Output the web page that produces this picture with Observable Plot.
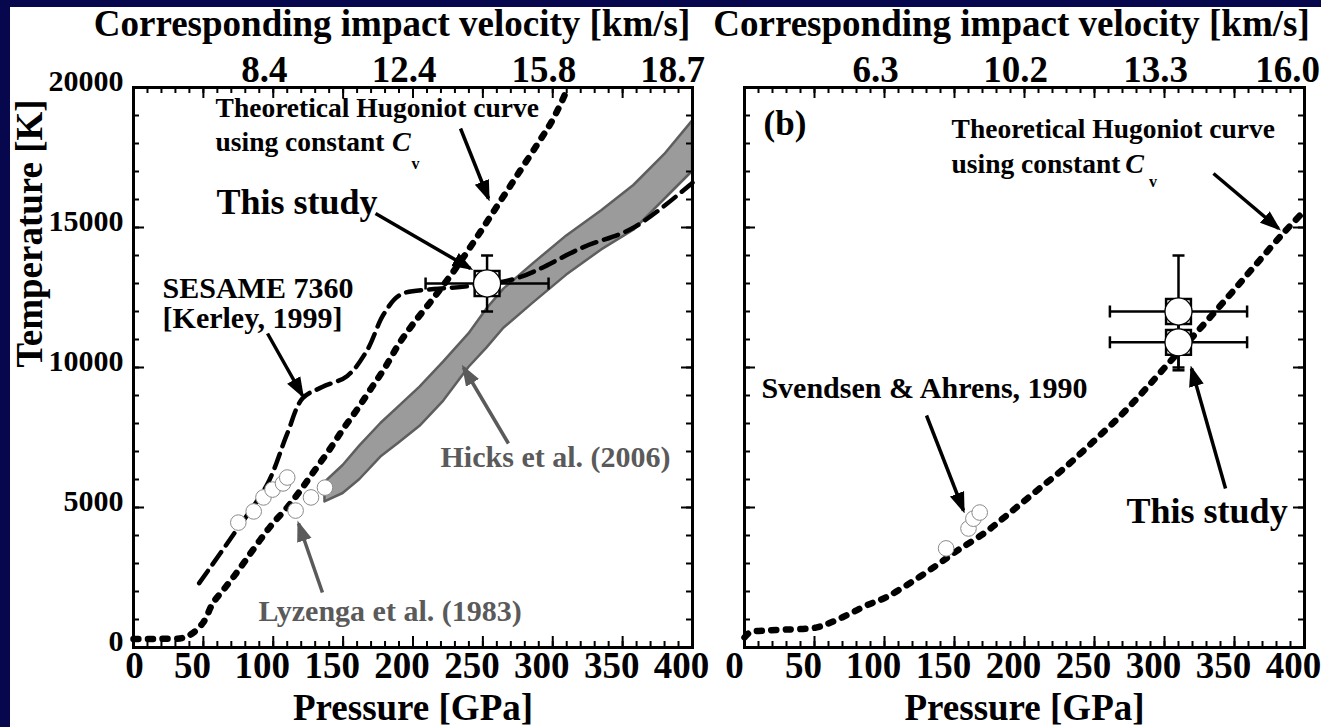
<!DOCTYPE html>
<html><head><meta charset="utf-8">
<script src="https://cdn.jsdelivr.net/npm/d3@7"></script>
<script src="https://cdn.jsdelivr.net/npm/@observablehq/plot@0.6"></script>
<style>
html,body{margin:0;padding:0;background:#fff;}
#wrap{position:relative;width:1321px;height:727px;background:#07074e;overflow:hidden;}
#paper{position:absolute;left:10px;top:7px;width:1311px;height:720px;background:#fff;}
#pa{position:absolute;left:0;top:0;width:700px;height:727px;}
#pb{position:absolute;left:700px;top:0;width:621px;height:727px;}
svg{overflow:visible}
</style></head><body>
<div id="wrap"><div id="paper"></div><div id="pa"></div><div id="pb"></div></div>
<script>
// ---------- axes ----------
const pressureTicks = [0, 50, 100, 150, 200, 250, 300, 350, 400];
const pressureMinor = d3.range(0, 401, 10);
const tempTicks = [0, 5000, 10000, 15000, 20000];
const tempMinor = d3.range(0, 20001, 1000);
const velocityTickPressure = [100, 200, 300, 400];
const velocityLabelsA = ["8.4", "12.4", "15.8", "18.7"];
const velocityLabelsB = ["6.3", "10.2", "13.3", "16.0"];

// ---------- panel (a) ----------
const hugoniotA_P = [0, 20, 35, 42, 50, 57, 65, 72, 80, 90, 100, 110, 120, 130, 140, 150, 160, 170, 180, 190, 200, 215, 230, 245, 260, 275, 290, 300, 311];
const hugoniotA_T = [300, 310, 340, 500, 900, 1600, 2100, 2550, 3100, 3800, 4450, 5000, 5650, 6350, 7050, 7800, 8500, 9250, 10000, 10850, 11550, 12500, 13500, 14600, 15750, 16900, 18050, 18850, 20000];

const sesame_P = [47, 72, 96, 110, 121, 135, 153, 167, 179, 191, 215, 239, 275, 322, 358, 400];
const sesame_T = [2300, 4070, 5860, 7640, 8900, 9300, 9700, 10600, 11900, 12600, 12800, 12900, 13200, 14300, 15000, 16600];

const hicks_P = [137, 150, 162, 177, 190, 205, 222, 240, 253, 265, 286, 310, 335, 358, 380, 400];
const hicks_Thigh = [5900, 6500, 7200, 8000, 8600, 9300, 10200, 11200, 12100, 12800, 13700, 14700, 15600, 16500, 17600, 18800];
const hicks_Tlow = [5200, 5500, 6000, 6800, 7300, 7900, 8800, 10000, 10700, 11400, 12300, 13300, 14200, 14900, 16000, 17000];

const lyzenga_P = [75, 86, 93, 99.5, 107, 110, 116, 127, 137];
const lyzenga_T = [4460, 4860, 5360, 5640, 5860, 6070, 4890, 5360, 5710];

const studyA_P = [253], studyA_T = [13000], studyA_dP = [44], studyA_dT = [1000];

// ---------- panel (b) ----------
const hugoniotB_P = [0, 4, 13, 30, 51, 62, 75, 87, 101, 121, 139, 152, 172, 189, 209, 229, 249, 269, 285, 302, 322, 345, 364, 384, 400];
const hugoniotB_T = [360, 540, 600, 640, 710, 900, 1200, 1500, 1790, 2390, 3000, 3460, 4110, 4790, 5610, 6430, 7350, 8300, 9150, 10100, 11200, 12500, 13600, 14750, 15600];

const svendsen_P = [144, 160, 163.5, 168];
const svendsen_T = [3540, 4250, 4600, 4820];

const studyB_P = [310, 310], studyB_T = [12000, 10900], studyB_dP = [49, 49], studyB_dT = [2000, 1000];

// ---------- annotations (data units) ----------
const notesA_black = [
  {P: 58.7, T: 18930, text: "Theoretical Hugoniot curve"},
  {P: 58.7, T: 17750, text: "using constant"}
];
const notesA_big = [{P: 59.4, T: 15500, text: "This study"}];
const notesA_sesame = [
  {P: 20.8, T: 12500, text: "SESAME 7360"},
  {P: 20.8, T: 11393, text: "[Kerley, 1999]"}
];
const notesA_gray = [
  {P: 219.7, T: 6429, text: "Hicks et al. (2006)"},
  {P: 89.4, T: 964, text: "Lyzenga et al. (1983)"}
];
const notesA_C = [{P: 185, T: 17750, text: "C"}];
const notesA_v = [{P: 199, T: 17107, text: "v"}];
const arrowsA_black = [
  {P1: 234.0, T1: 18536, P2: 254.0, T2: 16036},
  {P1: 173.2, T1: 15500, P2: 241.1, T2: 13536},
  {P1: 95.9, T1: 11214, P2: 120.9, T2: 9000}
];
const arrowsA_gray = [
  {P1: 268.3, T1: 7286, P2: 236.1, T2: 10000},
  {P1: 135.2, T1: 1964, P2: 118.1, T2: 4429}
];

const notesB_black = [
  {P: 147.9, T: 18214, text: "Theoretical Hugoniot curve"},
  {P: 147.9, T: 16964, text: "using constant"}
];
const notesB_b = [{P: 13.6, T: 18286, text: "(b)"}];
const notesB_sv = [{P: 12.1, T: 8893, text: "Svendsen & Ahrens, 1990"}];
const notesB_big = [{P: 272.9, T: 4464, text: "This study"}];
const notesB_C = [{P: 272, T: 16964, text: "C"}];
const notesB_v = [{P: 289, T: 16464, text: "v"}];
const arrowsB = [
  {P1: 335, T1: 16929, P2: 381.4, T2: 14964},
  {P1: 343.6, T1: 5679, P2: 319.3, T2: 9964},
  {P1: 130, T1: 8286, P2: 156.4, T2: 4893}
];

// ---------- helpers ----------
const SERIF = "'Liberation Serif','Times New Roman',serif";
const GRAY = "#5a5a5a";
const FH = 560;
const rows = (P, T) => P.map((p, i) => ({P: p, T: T[i]}));
const studyRows = (P, T, dP, dT) => P.map((p, i) => ({P: p, T: T[i], dP: dP[i], dT: dT[i]}));

function filledHead(color, context) {
  const ns = "http://www.w3.org/2000/svg";
  const doc = (context && context.document) || document;
  const m = doc.createElementNS(ns, "marker");
  m.setAttribute("viewBox", "-10 -5 10 10");
  m.setAttribute("markerWidth", 6);
  m.setAttribute("markerHeight", 6);
  m.setAttribute("refX", -1.5);
  m.setAttribute("refY", 0);
  m.setAttribute("orient", "auto");
  m.setAttribute("fill", color);
  m.setAttribute("stroke", "none");
  const p = doc.createElementNS(ns, "path");
  p.setAttribute("d", "M0,0L-10,-3.6L-10,3.6Z");
  m.appendChild(p);
  return m;
}
const vbar = {draw(ctx, size) { const r = Math.sqrt(size / Math.PI); ctx.moveTo(0, -r); ctx.lineTo(0, r); }};
const hbar = {draw(ctx, size) { const r = Math.sqrt(size / Math.PI); ctx.moveTo(-r, 0); ctx.lineTo(r, 0); }};

const txt = (o) => Object.assign({fontFamily: SERIF, fontWeight: "bold", fill: "black"}, o);

function frameMarks(FW) {
  return [
    Plot.tickX(pressureMinor, {x: d => d, insetTop: FH - 6, strokeWidth: 2}),
    Plot.tickX(pressureTicks, {x: d => d, insetTop: FH - 11, strokeWidth: 2}),
    Plot.tickX(pressureMinor, {x: d => d, insetBottom: FH - 6, strokeWidth: 2}),
    Plot.tickX(pressureTicks, {x: d => d, insetBottom: FH - 11, strokeWidth: 2}),
    Plot.tickY(tempMinor, {y: d => d, insetRight: FW - 6, strokeWidth: 2}),
    Plot.tickY(tempTicks, {y: d => d, insetRight: FW - 11, strokeWidth: 2}),
    Plot.tickY(tempMinor, {y: d => d, insetLeft: FW - 6, strokeWidth: 2}),
    Plot.tickY(tempTicks, {y: d => d, insetLeft: FW - 11, strokeWidth: 2}),
    Plot.frame({stroke: "black", strokeWidth: 3})
  ];
}

function axisText(velLabels, dxTitle, zeroDx, lastDx) {
  const vel = velocityTickPressure.map((P, i) => ({P, label: velLabels[i]}));
  const n = vel.length;
  return [
    Plot.text(pressureTicks.slice(0, 1), txt({x: d => d, text: d => String(d), frameAnchor: "bottom", lineAnchor: "bottom", dy: 30, dx: zeroDx, fontSize: 37})),
    Plot.text(pressureTicks.slice(1), txt({x: d => d, text: d => String(d), frameAnchor: "bottom", lineAnchor: "bottom", dy: 30, dx: -11, fontSize: 37})),
    Plot.text(vel.slice(0, n - 1), txt({x: "P", text: "label", frameAnchor: "top", lineAnchor: "bottom", dy: -6, dx: -9, fontSize: 37})),
    Plot.text(vel.slice(n - 1), txt({x: "P", text: "label", frameAnchor: "top", lineAnchor: "bottom", dy: -6, dx: lastDx, fontSize: 37})),
    Plot.text(["Corresponding impact velocity [km/s]"], txt({text: d => d, frameAnchor: "top", lineAnchor: "bottom", dy: -52, dx: dxTitle, fontSize: 37})),
    Plot.text(["Pressure [GPa]"], txt({text: d => d, frameAnchor: "bottom", lineAnchor: "bottom", dy: 72, fontSize: 37}))
  ];
}

function studyMarks(data) {
  return [
    Plot.link(data, {x1: d => d.P - d.dP, x2: d => d.P + d.dP, y1: "T", y2: "T", stroke: "black", strokeWidth: 2.5}),
    Plot.link(data, {x1: "P", x2: "P", y1: d => d.T - d.dT, y2: d => d.T + d.dT, stroke: "black", strokeWidth: 2.5}),
    Plot.dot(data, {x: d => d.P - d.dP, y: "T", symbol: vbar, r: 6, stroke: "black", strokeWidth: 2.5, fill: "none"}),
    Plot.dot(data, {x: d => d.P + d.dP, y: "T", symbol: vbar, r: 6, stroke: "black", strokeWidth: 2.5, fill: "none"}),
    Plot.dot(data, {x: "P", y: d => d.T - d.dT, symbol: hbar, r: 6, stroke: "black", strokeWidth: 2.5, fill: "none"}),
    Plot.dot(data, {x: "P", y: d => d.T + d.dT, symbol: hbar, r: 6, stroke: "black", strokeWidth: 2.5, fill: "none"}),
    Plot.dot(data, {x: "P", y: "T", symbol: "square", r: 14, fill: "white", stroke: "black", strokeWidth: 2.5}),
    Plot.dot(data, {x: "P", y: "T", r: 13.5, fill: "white", stroke: "black", strokeWidth: 1.2})
  ];
}

const common = {
  height: 727, marginTop: 87, marginBottom: 80,
  x: {domain: [0, 400], axis: null},
  y: {domain: [0, 20000], axis: null},
  style: {background: "transparent", overflow: "visible", maxWidth: "none", fontFamily: SERIF}
};

const hugStyle = {x: "P", y: "T", stroke: "black", strokeWidth: 6.5, strokeDasharray: "5,9.5", strokeLinecap: "round", curve: "catmull-rom"};

// ---------- panel (a) ----------
const hicksRows = hicks_P.map((p, i) => ({P: p, lo: hicks_Tlow[i], hi: hicks_Thigh[i]}));
const plotA = Plot.plot({
  ...common,
  width: 700, marginLeft: 133, marginRight: 8,
  marks: [
    Plot.areaY(hicksRows, {x: "P", y1: "lo", y2: "hi", fill: "#9b9b9b", stroke: "#5e5e5e", strokeWidth: 2.5, curve: "linear"}),
    Plot.line(rows(sesame_P, sesame_T), {x: "P", y: "T", stroke: "black", strokeWidth: 4.5, strokeDasharray: "15,8", curve: "catmull-rom"}),
    Plot.line(rows(hugoniotA_P, hugoniotA_T), hugStyle),
    Plot.dot(rows(lyzenga_P, lyzenga_T), {x: "P", y: "T", r: 7.8, fill: "white", stroke: "#8a8a8a", strokeWidth: 1}),
    Plot.link(arrowsA_black, {x1: "P1", y1: "T1", x2: "P2", y2: "T2", stroke: "black", strokeWidth: 3.5, markerEnd: filledHead}),
    Plot.link(arrowsA_gray, {x1: "P1", y1: "T1", x2: "P2", y2: "T2", stroke: GRAY, strokeWidth: 3.5, markerEnd: filledHead}),
    Plot.text(notesA_black, txt({x: "P", y: "T", text: "text", textAnchor: "start", lineAnchor: "bottom", fontSize: 27.5})),
    Plot.text(notesA_C, txt({x: "P", y: "T", text: "text", textAnchor: "start", lineAnchor: "bottom", fontSize: 28, fontStyle: "italic"})),
    Plot.text(notesA_v, txt({x: "P", y: "T", text: "text", textAnchor: "start", lineAnchor: "bottom", fontSize: 16})),
    Plot.text(notesA_big, txt({x: "P", y: "T", text: "text", textAnchor: "start", lineAnchor: "bottom", fontSize: 36})),
    Plot.text(notesA_sesame, txt({x: "P", y: "T", text: "text", textAnchor: "start", lineAnchor: "bottom", fontSize: 30})),
    Plot.text(notesA_gray, txt({x: "P", y: "T", text: "text", textAnchor: "start", lineAnchor: "bottom", fontSize: 30, fill: GRAY})),
    ...studyMarks(studyRows(studyA_P, studyA_T, studyA_dP, studyA_dT)),
    ...frameMarks(559),
    ...axisText(velocityLabelsA, -21, 1, -20),
    Plot.text(tempTicks, txt({y: d => d, text: d => String(d), frameAnchor: "left", textAnchor: "end", dx: -10, dy: -6, fontSize: 30})),
    Plot.text(["Temperature [K]"], txt({text: d => d, frameAnchor: "left", rotate: -90, dx: -103, fontSize: 37}))
  ]
});
document.getElementById("pa").appendChild(plotA);

// ---------- panel (b) ----------
const plotB = Plot.plot({
  ...common,
  width: 621, marginLeft: 44, marginRight: 17,
  marks: [
    Plot.line(rows(hugoniotB_P, hugoniotB_T), hugStyle),
    Plot.dot(rows(svendsen_P, svendsen_T), {x: "P", y: "T", r: 7.8, fill: "white", stroke: "#8a8a8a", strokeWidth: 1}),
    Plot.link(arrowsB, {x1: "P1", y1: "T1", x2: "P2", y2: "T2", stroke: "black", strokeWidth: 3.5, markerEnd: filledHead}),
    Plot.text(notesB_black, txt({x: "P", y: "T", text: "text", textAnchor: "start", lineAnchor: "bottom", fontSize: 27.5})),
    Plot.text(notesB_C, txt({x: "P", y: "T", text: "text", textAnchor: "start", lineAnchor: "bottom", fontSize: 28, fontStyle: "italic"})),
    Plot.text(notesB_v, txt({x: "P", y: "T", text: "text", textAnchor: "start", lineAnchor: "bottom", fontSize: 16})),
    Plot.text(notesB_b, txt({x: "P", y: "T", text: "text", textAnchor: "start", lineAnchor: "bottom", fontSize: 35})),
    Plot.text(notesB_sv, txt({x: "P", y: "T", text: "text", textAnchor: "start", lineAnchor: "bottom", fontSize: 30})),
    Plot.text(notesB_big, txt({x: "P", y: "T", text: "text", textAnchor: "start", lineAnchor: "bottom", fontSize: 36})),
    ...studyMarks(studyRows(studyB_P, studyB_T, studyB_dP, studyB_dT)),
    ...frameMarks(560),
    ...axisText(velocityLabelsB, -13, -10, -17)
  ]
});
document.getElementById("pb").appendChild(plotB);
</script></body></html>
